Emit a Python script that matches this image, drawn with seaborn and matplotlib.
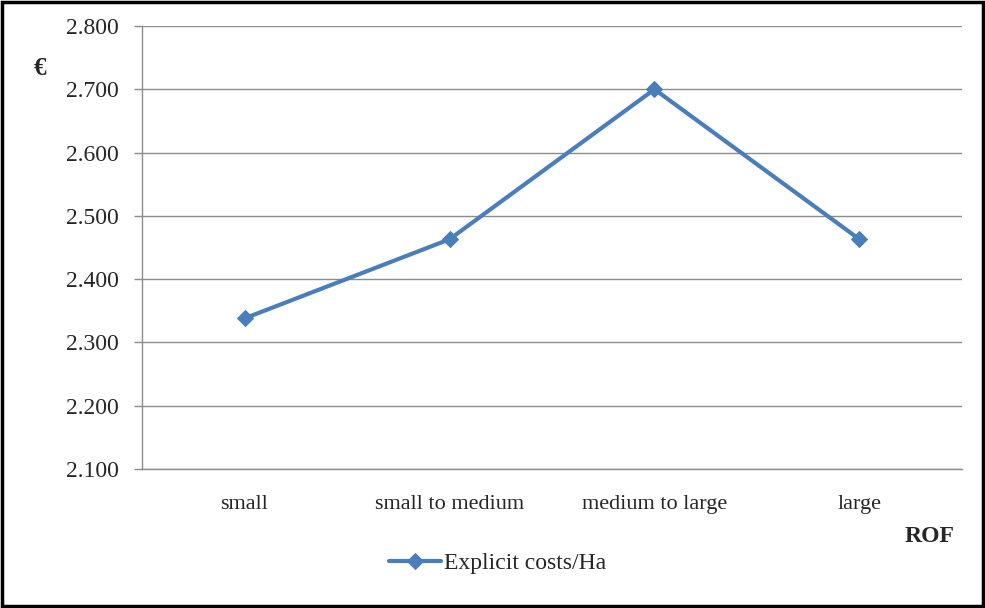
import matplotlib
matplotlib.use("Agg")
import matplotlib.pyplot as plt
import seaborn as sns
import pandas as pd
from matplotlib.patches import Rectangle

categories = ["small", "small to medium", "medium to large", "large"]
costs = [2.338, 2.463, 2.700, 2.463]
y_ticks = [2.1, 2.2, 2.3, 2.4, 2.5, 2.6, 2.7, 2.8]

sns.set_style("white")
plt.rcParams["font.family"] = ["Liberation Serif", "DejaVu Serif"]

df = pd.DataFrame({"pos": range(len(categories)), "cost": costs})

fig = plt.figure(figsize=(9.85, 6.08), dpi=100)
ax = fig.add_axes([0.1442, 0.2286, 0.8324, 0.7286])

sns.lineplot(data=df, x="pos", y="cost", ax=ax, color="#4A7EBB", linewidth=3,
             marker="D", markersize=8, markeredgecolor="#4A7EBB",
             label="Explicit costs/Ha", sort=False)

ax.set_xlim(-0.5, len(categories) - 0.5)
ax.set_ylim(2.1, 2.8)
ax.set_yticks(y_ticks)
ax.set_yticklabels([f"{v:.3f}" for v in y_ticks], fontsize=17)
ax.yaxis.grid(True, color="#8c8c8c", linewidth=1)
ax.set_axisbelow(True)

ax.set_xticks(range(len(categories)))
ax.set_xticklabels(categories, fontsize=16)
ax.set_xticks([i - 0.5 for i in range(len(categories) + 1)], minor=True)
ax.tick_params(axis="x", which="major", length=0, pad=19)
ax.tick_params(axis="x", which="minor", length=6, color="#8c8c8c", width=1, direction="out")
ax.tick_params(axis="y", length=6, color="#8c8c8c", width=1, direction="out", left=True, pad=11)

for side in ["top", "right"]:
    ax.spines[side].set_visible(False)
for side in ["left", "bottom"]:
    ax.spines[side].set_color("#8c8c8c")
    ax.spines[side].set_linewidth(1)

ax.set_xlabel("")
ax.set_ylabel("")
fig.text(0.040, 0.888, "€", fontsize=18, fontweight="bold", ha="center", va="center")
fig.text(0.944, 0.117, "ROF", fontsize=17, fontweight="bold", ha="center", va="center")

ax.legend(loc="center", bbox_to_anchor=(0.505, 0.074), bbox_transform=fig.transFigure,
          frameon=False, fontsize=17, handlelength=2.2, handletextpad=0.1)

fig.patches.append(Rectangle((0.002, 0.003), 0.996, 0.994, transform=fig.transFigure,
                             fill=False, edgecolor="black", linewidth=2.5))

fig.savefig("out.png", dpi=100)
